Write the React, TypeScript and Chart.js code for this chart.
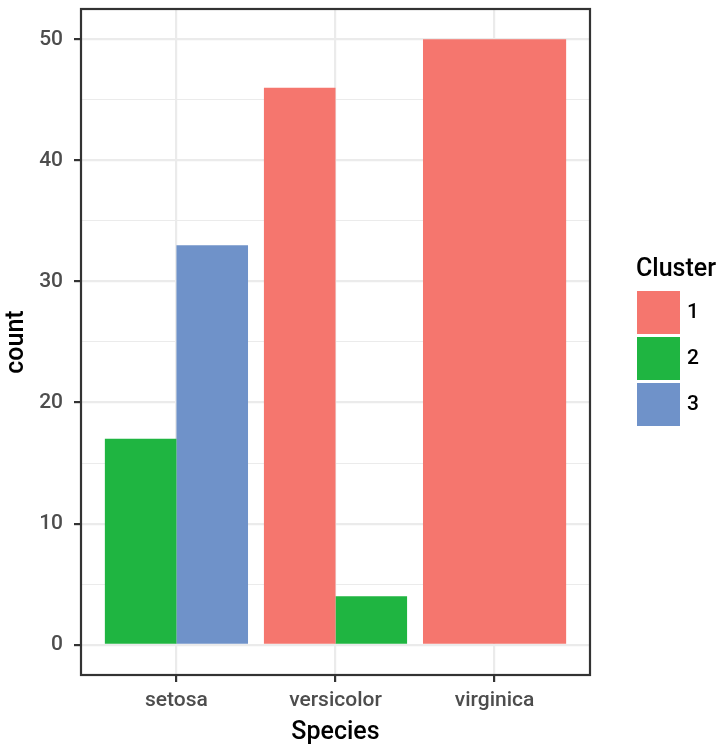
import React, { useEffect, useRef } from "react";
import { Chart, registerables } from "chart.js";

Chart.register(...registerables);

const CATEGORIES = ["setosa", "versicolor", "virginica"];
const CLUSTER_LABELS = ["1", "2", "3"];
const CLUSTER1 = [null, 46, 50];
const CLUSTER2 = [17, 4, null];
const CLUSTER3 = [33, null, null];
const CLUSTER_COLORS = ["#F5766E", "#1FB541", "#6F92C9"];
const Y_GRID = [0, 5, 10, 15, 20, 25, 30, 35, 40, 45, 50];
const X_TITLE = "Species";
const Y_TITLE = "count";
const LEGEND_TITLE = "Cluster";

const FONT = 'Roboto, "Liberation Sans", Arial, sans-serif';
const TICK_SIZE = 21;
const TITLE_SIZE = 25;

const panelAndLegend = {
  id: "panelAndLegend",
  afterDraw(chart: any) {
    const { ctx, chartArea } = chart;
    const { left, top, right, bottom } = chartArea;
    ctx.save();
    ctx.strokeStyle = "#333333";
    ctx.lineWidth = 2.2;
    ctx.strokeRect(left, top, right - left, bottom - top);

    ctx.fillStyle = "#000";
    ctx.font = `500 ${TITLE_SIZE}px ${FONT}`;
    ctx.textBaseline = "alphabetic";
    ctx.textAlign = "left";
    ctx.fillText(LEGEND_TITLE, 636, 276);
    chart.data.datasets.forEach((ds: any, i: number) => {
      const y = 291 + i * 46;
      ctx.fillStyle = ds.backgroundColor;
      ctx.fillRect(637, y, 43, 43);
      ctx.fillStyle = "#000";
      ctx.font = `500 ${TICK_SIZE}px ${FONT}`;
      ctx.textBaseline = "middle";
      ctx.fillText(ds.label, 687, y + 22);
    });
    ctx.restore();
  },
};

export default function App() {
  const ref = useRef<HTMLCanvasElement>(null);
  useEffect(() => {
    document.body.style.margin = "0";
    const series = [CLUSTER1, CLUSTER2, CLUSTER3];
    const chart = new Chart(ref.current!, {
      type: "bar",
      data: {
        datasets: series.map((vals, i) => ({
          label: CLUSTER_LABELS[i],
          data: vals.map((v, j) => ({ x: j + 1, y: v })) as any,
          backgroundColor: CLUSTER_COLORS[i],
          borderWidth: 0,
          skipNull: true,
          categoryPercentage: 0.9,
          barPercentage: 1.0,
        })),
      },
      options: {
        responsive: false,
        animation: false,
        layout: { padding: { left: 0, top: 9, right: 128, bottom: 0 } },
        plugins: { legend: { display: false }, tooltip: { enabled: false } },
        scales: {
          x: {
            type: "linear",
            min: 0.4,
            max: 3.6,
            offset: false,
            afterBuildTicks: (scale: any) => {
              scale.ticks = CATEGORIES.map((_, i) => ({ value: i + 1 }));
            },
            afterFit: (scale: any) => {
              scale.height = 78;
              scale.paddingLeft = 0;
              scale.paddingRight = 0;
            },
            ticks: {
              callback: (v: any) => CATEGORIES[Math.round(v) - 1] ?? "",
              color: "#4D4D4D",
              font: { family: FONT, size: TICK_SIZE, weight: "500" },
              padding: 6,
              maxRotation: 0,
              autoSkip: false,
            },
            grid: {
              offset: false,
              color: "#EBEBEB",
              lineWidth: 2.2,
              tickColor: "#333333",
              tickWidth: 2.2,
              tickLength: 7,
            },
            border: { display: false },
            title: {
              display: true,
              text: X_TITLE,
              color: "#000",
              font: { family: FONT, size: TITLE_SIZE, weight: "500" },
              padding: { top: 5, bottom: 5 },
            },
          },
          y: {
            type: "linear",
            min: -2.5,
            max: 52.5,
            afterBuildTicks: (scale: any) => {
              scale.ticks = Y_GRID.map((v) => ({ value: v }));
            },
            afterFit: (scale: any) => {
              scale.width = 81;
              scale.paddingTop = 0;
              scale.paddingBottom = 0;
            },
            ticks: {
              callback: (v: any) => (v % 10 === 0 ? String(v) : ""),
              color: "#4D4D4D",
              font: { family: FONT, size: TICK_SIZE, weight: "500" },
              padding: 11,
              autoSkip: false,
            },
            grid: {
              color: "#EBEBEB",
              lineWidth: (c: any) => (c.tick && c.tick.value % 10 === 0 ? 2.2 : 1.1),
              tickColor: (c: any) =>
                c.tick && c.tick.value % 10 === 0 ? "#333333" : "rgba(0,0,0,0)",
              tickWidth: 2.2,
              tickLength: 7,
            },
            border: { display: false },
            title: {
              display: true,
              text: Y_TITLE,
              color: "#000",
              font: { family: FONT, size: TITLE_SIZE, weight: "500" },
              padding: { top: 2, bottom: 2 },
            },
          },
        },
      },
      plugins: [panelAndLegend],
    });
    return () => chart.destroy();
  }, []);
  return (
    <div style={{ width: 718, height: 753 }}>
      <canvas ref={ref} width={718} height={753} style={{ display: "block" }} />
    </div>
  );
}
